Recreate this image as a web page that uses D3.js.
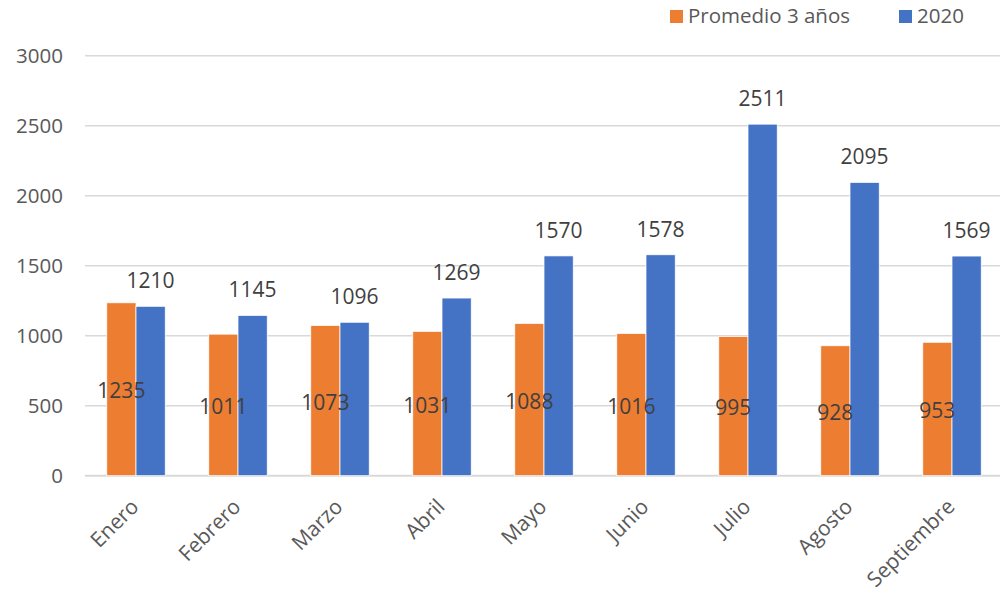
<!DOCTYPE html>
<html>
<head>
<meta charset="utf-8">
<script src="https://cdn.jsdelivr.net/npm/d3@7"></script>
<style>
  body { margin: 0; background: #fff; }
  text { font-family: "Open Sans", "Liberation Sans", sans-serif; }
</style>
</head>
<body>
<div class="chart-container"></div>
<script>
var months = ["Enero", "Febrero", "Marzo", "Abril", "Mayo", "Junio", "Julio", "Agosto", "Septiembre"];
var seriesNames = ["Promedio 3 años", "2020"];
var promedio = [1235, 1011, 1073, 1031, 1088, 1016, 995, 928, 953];
var y2020 = [1210, 1145, 1096, 1269, 1570, 1578, 2511, 2095, 1569];
var yTicks = [0, 500, 1000, 1500, 2000, 2500, 3000];
var colors = ["#ED7D31", "#4472C4"];

var width = 1000, height = 591;

var svg = d3.select(".chart-container")
    .append("svg")
    .attr("width", width)
    .attr("height", height);

var x0 = d3.scaleBand()
    .domain(months)
    .range([85, 1003])
    .padding(0);

var bw = x0.bandwidth();
var groupW = bw * 0.573;

var x1 = d3.scaleBand()
    .domain(seriesNames)
    .range([bw / 2 - groupW / 2, bw / 2 + groupW / 2])
    .padding(0);

var y = d3.scaleLinear()
    .domain([0, 3000])
    .range([475.7, 55.7]);

// gridlines
svg.append("g")
    .selectAll("line")
    .data(yTicks)
    .enter().append("line")
    .attr("x1", 85)
    .attr("x2", width)
    .attr("y1", function(d) { return y(d); })
    .attr("y2", function(d) { return y(d); })
    .style("stroke", "#D9D9D9")
    .style("stroke-width", function(d) { return d === 0 ? 2 : 1.5; });

// y tick labels
svg.append("g")
    .selectAll("text")
    .data(yTicks)
    .enter().append("text")
    .attr("x", 63)
    .attr("y", function(d) { return y(d); })
    .attr("dy", "0.36em")
    .attr("text-anchor", "end")
    .style("font-size", "20.5px")
    .style("fill", "#595959")
    .text(function(d) { return d; });

var rows = months.map(function(m, i) {
    return { month: m, values: [promedio[i], y2020[i]] };
});

var groups = svg.append("g")
    .selectAll("g")
    .data(rows)
    .enter().append("g")
    .attr("transform", function(d) { return "translate(" + x0(d.month) + ",0)"; });

groups.selectAll("rect")
    .data(function(d) {
        return d.values.map(function(v, j) { return { name: seriesNames[j], value: v, idx: j }; });
    })
    .enter().append("rect")
    .attr("x", function(d) { return x1(d.name); })
    .attr("width", x1.bandwidth())
    .attr("y", function(d) { return y(d.value); })
    .attr("height", function(d) { return y(0) - y(d.value); })
    .style("fill", function(d) { return colors[d.idx]; })
    .style("stroke", "#fff")
    .style("stroke-width", 0.75);

// labels: orange in bar center, blue above bar
groups.selectAll("text.val")
    .data(function(d) {
        return d.values.map(function(v, j) { return { name: seriesNames[j], value: v, idx: j }; });
    })
    .enter().append("text")
    .attr("class", "val")
    .attr("x", function(d) { return x1(d.name) + x1.bandwidth() / 2; })
    .attr("y", function(d) {
        if (d.idx === 0) return (y(d.value) + y(0)) / 2 + 9;
        return y(d.value) - 18;
    })
    .attr("text-anchor", "middle")
    .style("font-size", "21px")
    .style("fill", "#404040")
    .text(function(d) { return d.value; });

// category labels
svg.append("g")
    .selectAll("text")
    .data(months)
    .enter().append("text")
    .attr("transform", function(d) {
        return "translate(" + (x0(d) + bw / 2 + 4) + ",508) rotate(-45)";
    })
    .attr("text-anchor", "end")
    .style("font-size", "21px")
    .style("fill", "#595959")
    .text(function(d) { return d; });

// legend
var legendX = [670, 899];
var legend = svg.append("g")
    .selectAll("g")
    .data(seriesNames)
    .enter().append("g")
    .attr("transform", function(d, i) { return "translate(" + legendX[i] + ",0)"; });

legend.append("rect")
    .attr("x", 0)
    .attr("y", 10)
    .attr("width", 13)
    .attr("height", 13)
    .style("fill", function(d, i) { return colors[i]; });

legend.append("text")
    .attr("x", 18)
    .attr("y", 23)
    .style("font-size", "20.5px")
    .style("fill", "#595959")
    .text(function(d) { return d; });
</script>
</body>
</html>
